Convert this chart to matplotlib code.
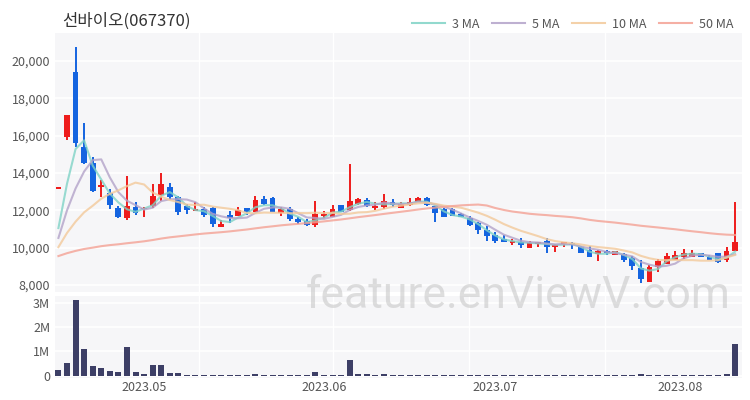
import matplotlib
matplotlib.use('Agg')
import matplotlib.pyplot as plt
from matplotlib.lines import Line2D
import numpy as np
import pandas as pd

plt.rcParams['font.family'] = ['Noto Sans CJK KR', 'DejaVu Sans']

title = '선바이오(067370)'

opens = [13150, 15930, 19430, 15410, 14520, 13250, 12910, 12140, 11570, 12200,
         12050, 12230, 12820, 13270, 12730, 12230, 11980, 12070, 12140, 11120,
         11750, 11700, 12110, 11930, 12590, 12680, 11870, 12050, 11520, 11450,
         11210, 11700, 11660, 12290, 12020, 12340, 12550, 12110, 12160, 12460,
         12110, 12290, 12430, 12680, 12230, 12050, 12050, 11800, 11570, 11300,
         10950, 10680, 10450, 10270, 10320, 9960, 10200, 10360, 10020, 10180,
         10270, 10050, 9870, 9660, 9800, 9610, 9660, 9430, 8890, 8180,
         8950, 9130, 9340, 9520, 9520, 9700, 9520, 9700, 9340, 9800]
highs = [13150, 17110, 20730, 16660, 14840, 13600, 13140, 12250, 13840, 12460,
         12200, 13410, 13980, 13450, 12780, 12330, 12460, 12180, 12200, 11480,
         11960, 12160, 12110, 12770, 12770, 12700, 12200, 12160, 11620, 11560,
         12500, 11960, 12290, 12300, 14480, 12650, 12680, 12430, 12880, 12600,
         12450, 12640, 12700, 12700, 12250, 12150, 12150, 11850, 11700, 11380,
         11160, 10860, 10680, 10450, 10500, 10380, 10300, 10500, 10200, 10300,
         10330, 10100, 10100, 9850, 9900, 9820, 9700, 9570, 9340, 9070,
         9390, 9700, 9800, 9910, 9850, 9720, 9620, 9720, 10020, 12460]
lows = [13150, 15770, 15380, 14480, 12990, 12700, 12060, 11570, 11480, 11750,
        11650, 12110, 12500, 12550, 11750, 11800, 11980, 11630, 11090, 11120,
        11300, 11680, 11750, 11900, 12300, 11900, 11720, 11450, 11290, 11170,
        11120, 11570, 11620, 11900, 11980, 12300, 12200, 12020, 12050, 12160,
        12100, 12230, 12430, 12250, 11390, 11620, 11700, 11630, 11160, 10730,
        10380, 10250, 10300, 10140, 9960, 9960, 10050, 9700, 9750, 10050,
        9910, 9700, 9500, 9300, 9600, 9600, 9240, 8820, 8090, 8180,
        8720, 9100, 9340, 9390, 9480, 9500, 9340, 9200, 9250, 9800]
closes = [13150, 17110, 15590, 14550, 13050, 13350, 12290, 11630, 12250, 11880,
          12150, 12790, 13410, 12730, 11930, 12020, 12090, 11750, 11270, 11270,
          11570, 12020, 11930, 12550, 12340, 11930, 12050, 11520, 11380, 11210,
          11800, 11800, 12050, 11930, 12520, 12600, 12230, 12230, 12500, 12290,
          12340, 12460, 12640, 12290, 11880, 11660, 11710, 11630, 11210, 10950,
          10640, 10360, 10320, 10380, 10140, 10270, 10270, 10050, 10140, 10290,
          10140, 9700, 9520, 9800, 9700, 9800, 9340, 9020, 8300, 8980,
          9290, 9550, 9610, 9730, 9700, 9520, 9340, 9250, 9800, 10320]
volumes = [230000, 530000, 3150000, 1100000, 380000, 300000, 200000, 140000, 1200000, 140000,
           80000, 440000, 440000, 120000, 100000, 30000, 25000, 25000, 30000, 20000,
           20000, 25000, 20000, 50000, 20000, 20000, 15000, 20000, 15000, 20000,
           150000, 40000, 20000, 15000, 660000, 50000, 50000, 25000, 80000, 30000,
           20000, 20000, 25000, 20000, 20000, 15000, 15000, 15000, 15000, 30000,
           30000, 20000, 15000, 15000, 15000, 15000, 10000, 20000, 15000, 10000,
           15000, 15000, 15000, 20000, 15000, 10000, 15000, 20000, 50000, 30000,
           20000, 15000, 15000, 15000, 10000, 10000, 10000, 15000, 50000, 1330000]
# closes before the first visible day (estimated), used only to warm up the moving averages
prior_closes = [9430, 9430, 9430, 9430, 9430, 9430, 9430, 9430, 9430, 9430,
                9430, 9430, 9430, 9430, 9430, 9430, 9430, 9430, 9430, 9430,
                9430, 9430, 9430, 9430, 9430, 9430, 9430, 9430, 9430, 9430,
                9430, 9430, 9430, 9430, 9430, 9430, 9430, 9430, 9430, 9430,
                9540, 9540, 9540, 9540, 9540, 9725, 9725, 10000, 10000]

ma_windows = [3, 5, 10, 50]
ma_labels = ['3 MA', '5 MA', '10 MA', '50 MA']
ma_colors = ['#7fd3c6', '#b3a3c9', '#f3c99a', '#f4a194']

price_ticks = [8000, 10000, 12000, 14000, 16000, 18000, 20000]
vol_ticks = [0, 1000000, 2000000, 3000000]
vol_tick_labels = ['0', '1M', '2M', '3M']
month_ticks = [10, 31, 51, 72.6]
month_labels = ['2023.05', '2023.06', '2023.07', '2023.08']
vgrid = [16.4, 32.1, 47.9, 63.8]

UP = '#ee1c1c'
DOWN = '#1464e0'
BG = '#f6f6f8'
TXT = '#555555'

fig = plt.figure(figsize=(7.5, 4), dpi=100)
W, H = 750, 400
ax = fig.add_axes([55 / W, 1 - 292 / H, 687 / W, 259 / H])
axv = fig.add_axes([55 / W, 1 - 378 / H, 687 / W, 82 / H], sharex=ax)

n = len(closes)
x = np.arange(n)
o = np.array(opens, float)
c = np.array(closes, float)
hi = np.array(highs, float)
lo = np.array(lows, float)
colors = [UP if cc >= oo else DOWN for oo, cc in zip(o, c)]

for a in (ax, axv):
    a.set_facecolor(BG)
    for s in a.spines.values():
        s.set_visible(False)
    a.tick_params(length=0, colors=TXT, labelsize=9)
    for v in vgrid:
        a.axvline(v, color='white', lw=1.0, zorder=0)

for t in price_ticks:
    ax.axhline(t, color='white', lw=1.2, zorder=0)
for t in vol_ticks:
    axv.axhline(t, color='white', lw=1.2, zorder=0)

ax.vlines(x, lo, hi, colors=colors, lw=1.4, zorder=2)
body = np.maximum(np.abs(c - o), 80)
ax.bar(x, body, bottom=np.minimum(o, c), width=0.68, color=colors, zorder=3)

full = pd.Series(prior_closes + closes, dtype=float)
k = len(prior_closes)
for w, lab, col in zip(ma_windows, ma_labels, ma_colors):
    ma = full.rolling(w).mean().iloc[k:].to_numpy()
    ax.plot(x, ma, color=col, lw=1.5, alpha=0.8, zorder=4, label=lab)

ax.set_ylim(7625, 21500)
ax.set_yticks(price_ticks)
ax.set_yticklabels([f'{t:,}' for t in price_ticks])
ax.set_xlim(-0.4, n - 0.2)
ax.tick_params(axis='x', labelbottom=False)

axv.bar(x, volumes, width=0.7, color='#3d3f66', zorder=3)
axv.set_ylim(-100000, 3300000)
axv.set_yticks(vol_ticks)
axv.set_yticklabels(vol_tick_labels)
axv.set_xticks(month_ticks)
axv.set_xticklabels(month_labels)
axv.tick_params(axis='x', pad=2)

fig.text(62 / W, 1 - 21 / H, title, fontsize=12, color='#333333', va='center', ha='left')

handles = [Line2D([0], [0], color=col, lw=1.5, alpha=0.85) for col in ma_colors]
fig.legend(handles, ma_labels, loc='center right', bbox_to_anchor=(745 / W, 1 - 24 / H),
           ncol=4, frameon=False, fontsize=9, handlelength=2.6, columnspacing=1.0,
           handletextpad=0.6, labelcolor=TXT)

fig.text(518 / W, 1 - 296 / H, 'feature.enViewV.com', fontsize=32, color='#c4c4c4',
         alpha=0.55, ha='center', va='center', family=['Roboto', 'DejaVu Sans'],
         zorder=10)

fig.savefig('out.png', dpi=100)
